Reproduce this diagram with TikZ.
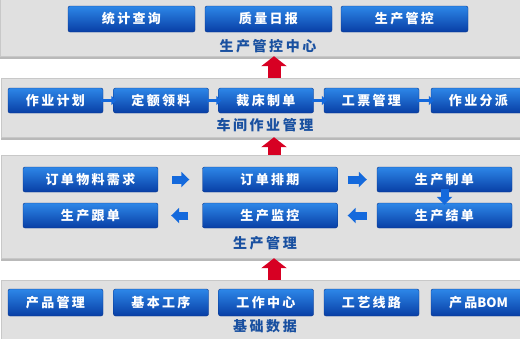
\documentclass[tikz,border=0pt]{standalone}
\usepackage{fontspec}
\setmainfont{Noto Sans CJK SC}[LetterSpace=18]
\usetikzlibrary{arrows.meta, shadows}

\definecolor{panelfill}{RGB}{224,224,224}
\definecolor{panelline}{RGB}{200,200,200}
\definecolor{btntop}{RGB}{45,135,232}
\definecolor{btnbot}{RGB}{8,62,165}
\definecolor{btnline}{RGB}{10,55,140}
\definecolor{lbltext}{RGB}{25,80,160}
\definecolor{linkblue}{RGB}{20,105,220}
\definecolor{upred}{RGB}{215,0,35}

\begin{document}
\begin{tikzpicture}[
  x=1pt, y=-1pt,
  panel/.style={draw=panelline, fill=panelfill, minimum width=520pt, inner sep=0pt,
    drop shadow={shadow xshift=0pt, shadow yshift=-3pt, fill=gray!55, opacity=1}},
  btn/.style={draw=btnline, top color=btntop, bottom color=btnbot, rounded corners=2pt,
    text=white, inner sep=0pt, minimum height=25pt, font=\fontsize{13}{15}\selectfont\bfseries},
  wbtn/.style={btn, minimum width=135pt},
  mbtn/.style={btn, minimum width=127pt, minimum height=26pt},
  sbtn/.style={btn, minimum width=95pt},
  lbl/.style={text=lbltext, font=\fontsize{14}{16}\selectfont\bfseries},
  link/.style={-{Triangle[width=9pt,length=5pt]}, line width=3pt, draw=linkblue},
  blockarr/.style={-{Triangle[width=15pt,length=8pt]}, line width=8pt, draw=linkblue},
  uparr/.style={-{Triangle[width=25pt,length=10pt]}, line width=13pt, draw=upred}
]
\useasboundingbox (0,0) rectangle (520,338);

% the four bands, top to bottom
\node[panel, minimum height=58pt] (p1) at (260,27)    {};
\node[panel, minimum height=59pt] (p2) at (261,107.5) {};
\node[panel, minimum height=103pt] (p3) at (261,206.5) {};
\node[panel, minimum height=60pt] (p4) at (261,310)   {};

% control centre
\node[mbtn] (tj) at (131.5,19) {统计查询};
\node[mbtn] (zl) at (268.5,19) {质量日报};
\node[mbtn] (gk) at (404.5,19) {生产管控};
\node[lbl] (l1) at (268,46) {生产管控中心};

% workshop jobs
\node[sbtn] (jh) at (55.5,100.5) {作业计划};
\node[sbtn] (ll) at (161,100.5)  {定额领料};
\node[sbtn] (cc) at (266,100.5)  {裁床制单};
\node[sbtn] (gp) at (371.5,100.5) {工票管理};
\node[sbtn] (pf) at (478.5,100.5) {作业分派};
\node[lbl] (l2) at (265,125) {车间作业管理};
\foreach \a/\b in {jh/ll, ll/cc, cc/gp, gp/pf}
  \draw[link, shorten <=-2pt, shorten >=-3pt] (\a) -- (\b);

% production
\node[wbtn] (xq) at (90.5,179.5) {订单物料需求};
\node[wbtn] (pq) at (270,179.5)  {订单排期};
\node[wbtn] (zd) at (444.5,179.5) {生产制单};
\node[wbtn] (gd) at (90.5,215.5) {生产跟单};
\node[wbtn] (jk) at (270,215.5)  {生产监控};
\node[wbtn] (jd) at (444.5,215.5) {生产结单};
\node[lbl] (l3) at (265,243) {生产管理};
\draw[blockarr, shorten <=14pt, shorten >=13pt] (xq) -- (pq);
\draw[blockarr, shorten <=10pt, shorten >=10pt] (pq) -- (zd);
\draw[blockarr, shorten <=-3pt, shorten >=-2pt] (zd) -- (jd);
\draw[blockarr, shorten <=10pt, shorten >=10pt] (jd) -- (jk);
\draw[blockarr, shorten <=14pt, shorten >=13pt] (jk) -- (gd);

% base data
\node[sbtn, minimum height=27pt] (cp) at (55.5,302.5)  {产品管理};
\node[sbtn, minimum height=27pt] (gx) at (161,302.5)   {基本工序};
\node[sbtn, minimum height=27pt] (zx) at (266,302.5)   {工作中心};
\node[sbtn, minimum height=27pt] (xl) at (371.5,302.5) {工艺线路};
\node[sbtn, minimum height=27pt] (bom) at (478.5,302.5) {产品{\addfontfeature{LetterSpace=0}BOM}};
\node[lbl] (l4) at (265,326) {基础数据};

% red arrows between the bands
\coordinate (mid) at (274,0);
\draw[uparr] (p2.north -| mid) -- (p1.south -| mid);
\draw[uparr] (p3.north -| mid) -- (p2.south -| mid);
\draw[uparr] (p4.north -| mid) -- (p3.south -| mid);
\end{tikzpicture}
\end{document}
